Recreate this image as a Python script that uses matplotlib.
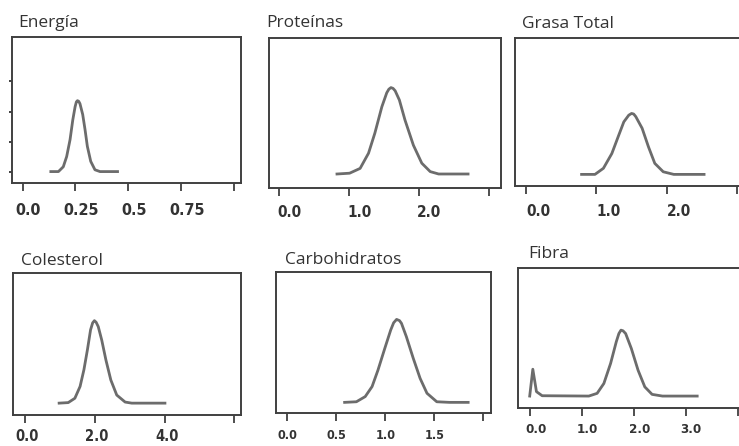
import matplotlib.pyplot as plt
from matplotlib.transforms import ScaledTranslation

# Densidades a posteriori (eje y sin etiquetas)
energia_x = [0.134, 0.17, 0.193, 0.209, 0.225, 0.238, 0.249, 0.255, 0.26, 0.266, 0.272, 0.285, 0.296, 0.307, 0.323, 0.343, 0.367, 0.45]
energia_y = [0, 0, 0.8, 2.5, 5.3, 8.6, 10.8, 11.6, 11.8, 11.7, 11.3, 9.5, 7.0, 4.2, 1.7, 0.3, 0, 0]

proteinas_x = [0.83, 1.01, 1.16, 1.28, 1.37, 1.47, 1.54, 1.57, 1.60, 1.63, 1.66, 1.72, 1.80, 1.92, 2.04, 2.16, 2.28, 2.70]
proteinas_y = [0, 0.02, 0.14, 0.52, 1.02, 1.68, 2.03, 2.12, 2.16, 2.14, 2.08, 1.85, 1.35, 0.72, 0.27, 0.06, 0, 0]

grasa_x = [0.79, 0.98, 1.10, 1.22, 1.31, 1.39, 1.46, 1.50, 1.53, 1.56, 1.65, 1.74, 1.83, 1.95, 2.10, 2.53]
grasa_y = [0, 0, 0.21, 0.72, 1.30, 1.81, 2.04, 2.10, 2.08, 1.99, 1.59, 0.95, 0.38, 0.09, 0, 0]

colesterol_x = [0.98, 1.24, 1.43, 1.58, 1.69, 1.79, 1.88, 1.94, 1.99, 2.04, 2.10, 2.20, 2.32, 2.46, 2.63, 2.87, 3.06, 4.01]
colesterol_y = [0, 0.01, 0.09, 0.31, 0.62, 0.99, 1.36, 1.49, 1.53, 1.50, 1.42, 1.17, 0.80, 0.43, 0.15, 0.02, 0, 0]

carbo_x = [0.59, 0.71, 0.80, 0.87, 0.93, 1.00, 1.06, 1.09, 1.12, 1.15, 1.17, 1.22, 1.29, 1.36, 1.43, 1.53, 1.66, 1.85]
carbo_y = [0, 0.02, 0.19, 0.52, 1.06, 1.78, 2.38, 2.62, 2.73, 2.69, 2.60, 2.16, 1.45, 0.79, 0.30, 0.02, 0, 0]

fibra_x = [-0.01, 0.05, 0.12, 0.23, 1.13, 1.29, 1.42, 1.55, 1.66, 1.71, 1.75, 1.79, 1.84, 1.95, 2.08, 2.21, 2.35, 2.55, 3.22]
fibra_y = [0, 0.79, 0.13, 0.01, 0, 0.08, 0.37, 0.96, 1.60, 1.84, 1.94, 1.92, 1.84, 1.40, 0.76, 0.27, 0.05, 0, 0]

titulos = ["Energía", "Proteínas", "Grasa Total", "Colesterol", "Carbohidratos", "Fibra"]
series = [(energia_x, energia_y), (proteinas_x, proteinas_y), (grasa_x, grasa_y),
          (colesterol_x, colesterol_y), (carbo_x, carbo_y), (fibra_x, fibra_y)]
ticks_x = [[0, 0.25, 0.5, 0.75, 1.0], [0, 1, 2, 3], [0, 1, 2, 3],
           [0, 2, 4, 6], [0, 0.5, 1.0, 1.5, 2.0], [0, 1, 2, 3, 4]]
etiquetas_x = [["0.0", "0.25", "0.5", "0.75", ""], ["0.0", "1.0", "2.0", ""], ["0.0", "1.0", "2.0", ""],
               ["0.0", "2.0", "4.0", ""], ["0.0", "0.5", "1.0", "1.5", ""], ["0.0", "1.0", "2.0", "3.0", ""]]
ticks_y_energia = [0, 5, 10, 15]

# cajas en pixeles: izquierda, derecha, arriba, abajo
W, H = 739, 446
cajas = [(12, 241, 37, 183), (269, 501, 38, 188), (515, 747, 38, 186),
         (12.7, 240.7, 272.7, 415), (276, 490.7, 271.7, 412.7), (518.3, 748, 268.3, 408.3)]
limites_x = [(-0.05, 1.035), (-0.14, 3.17), (-0.156, 3.14), (-0.35, 6.18), (-0.11, 2.08), (-0.23, 4.2)]
limites_y = [(-1.9, 22.4), (-0.35, 3.4), (-0.40, 4.7), (-0.22, 2.42), (-0.34, 4.3), (-0.36, 3.76)]
pos_titulos = [(18.3, 27.3), (266, 27.3), (521.7, 28), (20.7, 265), (285, 264.3), (528.3, 258.3)]
desplaz_etiq = [6, 10.5, 12, 2, 1, 5.5]
pad_etiq = [8.5, 6.5, 7, 4, 6, 4.8]
tam_etiq = [11.5, 11, 11, 10.5, 9, 9.5]

fig = plt.figure(figsize=(W / 100, H / 100), dpi=100)
fig.patch.set_facecolor("white")

for i, (titulo, (xs, ys)) in enumerate(zip(titulos, series)):
    izq, der, arr, aba = cajas[i]
    ax = fig.add_axes([izq / W, 1 - aba / H, (der - izq) / W, (aba - arr) / H])
    ax.plot(xs, ys, color="#6c6c6c", linewidth=2.0, solid_joinstyle="round")
    ax.set_xlim(*limites_x[i])
    ax.set_ylim(*limites_y[i])
    ax.set_xticks(ticks_x[i])
    ax.set_xticklabels(etiquetas_x[i], family="DejaVu Sans", fontstretch="condensed",
                       fontsize=tam_etiq[i], fontweight="bold", color="#333333")
    ax.tick_params(axis="x", direction="out", length=6, width=1.3, color="#404040", pad=pad_etiq[i])
    if i == 0:
        ax.set_yticks(ticks_y_energia)
        ax.set_yticklabels([])
        ax.tick_params(axis="y", direction="out", length=2.5, width=1.4, color="#404040")
    else:
        ax.set_yticks([])
    for lado in ax.spines.values():
        lado.set_color("#404040")
        lado.set_linewidth(1.4)
    desplazamiento = ScaledTranslation(desplaz_etiq[i] / 100, 0, fig.dpi_scale_trans)
    for etiqueta in ax.get_xticklabels():
        etiqueta.set_transform(etiqueta.get_transform() + desplazamiento)

    tx, ty = pos_titulos[i]
    fig.text(tx / W, 1 - ty / H, titulo, family=["Open Sans", "DejaVu Sans"], fontsize=12.5,
             color="#333333", ha="left", va="baseline")

fig.savefig("out.png", dpi=100, facecolor="white")
